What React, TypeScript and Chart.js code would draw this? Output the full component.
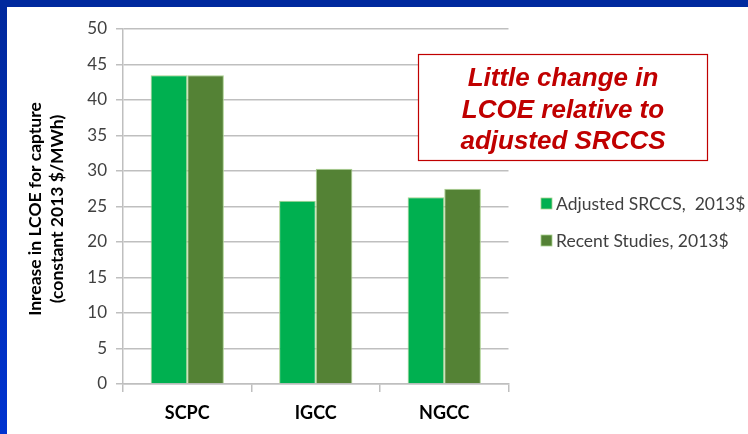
import React, { useEffect, useRef } from "react";
import { Chart, registerables } from "chart.js";

Chart.register(...registerables);

const categories = ["SCPC", "IGCC", "NGCC"];
const seriesNames = ["Adjusted SRCCS,  2013$", "Recent Studies, 2013$"];
const adjustedSrccs = [43.5, 25.8, 26.3];
const recentStudies = [43.5, 30.3, 27.5];
const seriesColors = ["#00B050", "#548235"];
const yTitleLines = ["Inrease in LCOE for capture", "(constant 2013 $/MWh)"];
const noteLines = ["Little change in", "LCOE relative to", "adjusted SRCCS"];
const yMin = 0;
const yMax = 50;
const yStep = 5;

const FONT_UI = "Lato, 'Open Sans', 'Noto Sans', sans-serif";

const decorPlugin = {
  id: "decor",
  beforeDraw(chart: any) {
    const ctx = chart.ctx;
    const w = chart.width;
    const h = chart.height;
    ctx.save();
    ctx.fillStyle = "#ffffff";
    ctx.fillRect(0, 0, w, h);
    const g = ctx.createLinearGradient(0, 0, 0, h);
    g.addColorStop(0, "#00289C");
    g.addColorStop(1, "#0033D0");
    ctx.fillStyle = g;
    ctx.fillRect(0, 0, 7, h);
    ctx.fillStyle = "#00299E";
    ctx.fillRect(0, 0, w, 7);
    ctx.restore();
  },
  afterDraw(chart: any) {
    const ctx = chart.ctx;
    ctx.save();
    // y-axis title
    ctx.fillStyle = "#000000";
    ctx.font = "bold 17.5px " + FONT_UI;
    ctx.textAlign = "center";
    ctx.textBaseline = "middle";
    const titleX = [35, 57];
    yTitleLines.forEach((line, i) => {
      ctx.save();
      ctx.translate(titleX[i], 209);
      ctx.rotate(-Math.PI / 2);
      ctx.fillText(line, 0, 0);
      ctx.restore();
    });

    // legend
    ctx.font = "17.5px " + FONT_UI;
    ctx.textAlign = "left";
    const legendY = [204, 241];
    chart.data.datasets.forEach((ds: any, i: number) => {
      ctx.fillStyle = ds.backgroundColor;
      ctx.fillRect(541, legendY[i] - 6, 11, 11);
      ctx.strokeStyle = "#A9D18E";
      ctx.lineWidth = 0.8;
      ctx.strokeRect(541, legendY[i] - 6, 11, 11);
      ctx.fillStyle = "#404040";
      ctx.fillText(ds.label, 556, legendY[i]);
    });

    // annotation box
    ctx.fillStyle = "#ffffff";
    ctx.fillRect(418, 54, 290, 107);
    ctx.strokeStyle = "#C00000";
    ctx.lineWidth = 1.2;
    ctx.strokeRect(418.5, 54.5, 289, 106);
    ctx.fillStyle = "#C00000";
    ctx.font = "italic bold 26px 'Liberation Sans', Arial, sans-serif";
    ctx.textAlign = "center";
    ctx.textBaseline = "alphabetic";
    const base = [86, 118, 149];
    noteLines.forEach((line, i) => ctx.fillText(line, 563, base[i]));
    ctx.restore();
  },
};

export default function App() {
  const ref = useRef<HTMLCanvasElement | null>(null);
  useEffect(() => {
    if (!ref.current) return;
    const chart = new Chart(ref.current, {
      type: "bar",
      data: {
        labels: categories,
        datasets: [
          {
            label: seriesNames[0],
            data: adjustedSrccs,
            backgroundColor: seriesColors[0],
            borderColor: "#A9D18E",
            borderWidth: 1,
            categoryPercentage: 0.57,
            barPercentage: 1.0,
          },
          {
            label: seriesNames[1],
            data: recentStudies,
            backgroundColor: seriesColors[1],
            borderColor: "#A9D18E",
            borderWidth: 1,
            categoryPercentage: 0.57,
            barPercentage: 1.0,
          },
        ],
      },
      options: {
        animation: false,
        responsive: false,
        devicePixelRatio: 1,
        layout: { padding: { left: 0, right: 239.5, top: 29, bottom: 0 } },
        plugins: {
          legend: { display: false },
          tooltip: { enabled: false },
          title: { display: false },
        },
        scales: {
          x: {
            grid: {
              drawOnChartArea: false,
              drawTicks: true,
              tickLength: 8,
              color: "#BFBFBF",
              lineWidth: 1.5,
            },
            border: { display: true, color: "#BFBFBF", width: 1.5 },
            ticks: {
              color: "#000000",
              padding: 10,
              font: { family: FONT_UI, size: 18, weight: "bold" },
            },
            afterFit: (s: any) => {
              s.height = 50;
            },
          },
          y: {
            min: yMin,
            max: yMax,
            ticks: {
              stepSize: yStep,
              color: "#404040",
              padding: 9,
              font: { family: FONT_UI, size: 17 },
            },
            grid: {
              color: "#BFBFBF",
              lineWidth: 1.5,
              tickLength: 7,
            },
            border: { display: true, color: "#BFBFBF", width: 1.5 },
            afterFit: (s: any) => {
              s.width = 123;
            },
          },
        },
      },
      plugins: [decorPlugin],
    } as any);
    return () => chart.destroy();
  }, []);
  return (
    <div style={{ position: "absolute", left: 0, top: 0, width: 748, height: 434 }}>
      <canvas ref={ref} width={748} height={434} style={{ width: 748, height: 434, display: "block" }} />
    </div>
  );
}
